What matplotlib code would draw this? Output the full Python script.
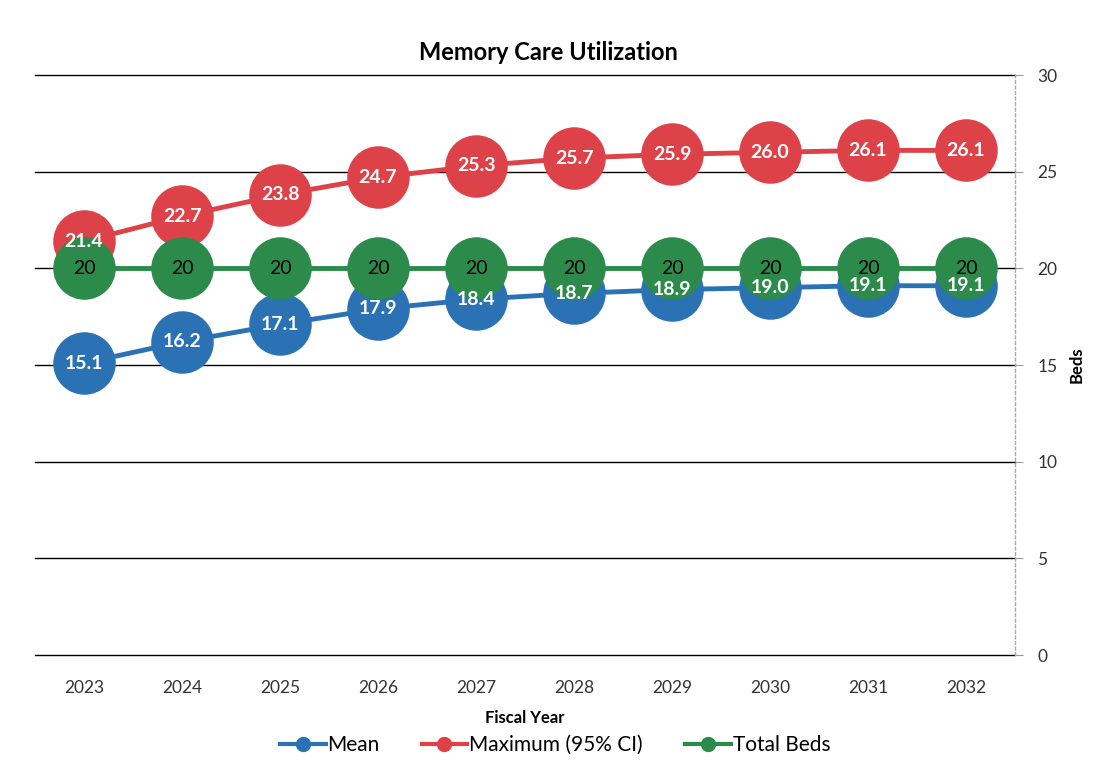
import matplotlib
matplotlib.use("Agg")
import matplotlib.pyplot as plt
from matplotlib.lines import Line2D

years = ["2023", "2024", "2025", "2026", "2027", "2028", "2029", "2030", "2031", "2032"]
mean_vals = [15.1, 16.2, 17.1, 17.9, 18.4, 18.7, 18.9, 19.0, 19.1, 19.1]
max_vals = [21.4, 22.7, 23.8, 24.7, 25.3, 25.7, 25.9, 26.0, 26.1, 26.1]
total_beds = [20, 20, 20, 20, 20, 20, 20, 20, 20, 20]
yticks = [0, 5, 10, 15, 20, 25, 30]

plt.rcParams['font.family'] = ['Lato', 'DejaVu Sans']

c_blue = "#2B72B5"
c_red = "#DE4249"
c_green = "#2C8A4B"

fig = plt.figure(figsize=(10.98, 7.73), dpi=100)
ax = fig.add_axes([35/1098, 1-655/773, 980/1098, 580/773])

x = list(range(len(years)))
ms = 44
ax.plot(x, mean_vals, color=c_blue, lw=3.5, marker='o', ms=ms, zorder=3)
ax.plot(x, max_vals, color=c_red, lw=3.5, marker='o', ms=ms, zorder=4)
ax.plot(x, total_beds, color=c_green, lw=3.5, marker='o', ms=ms, zorder=5)

for xi, v in zip(x, mean_vals):
    ax.text(xi, v, f"{v:.1f}", color='white', ha='center', va='center',
            fontsize=14, fontweight='bold', zorder=10)
for xi, v in zip(x, max_vals):
    ax.text(xi, v, f"{v:.1f}", color='white', ha='center', va='center',
            fontsize=14, fontweight='bold', zorder=10)
for xi, v in zip(x, total_beds):
    ax.text(xi, v, f"{v}", color='black', ha='center', va='center',
            fontsize=14, zorder=10)

ax.set_xlim(-0.5, len(years) - 0.5)
ax.set_ylim(0, 30)
ax.set_xticks(x)
ax.set_xticklabels(years, fontsize=12.5, color='#333333')
ax.tick_params(axis='x', length=0, pad=18)
ax.yaxis.tick_right()
ax.yaxis.set_label_position('right')
ax.set_yticks(yticks)
ax.set_yticklabels([str(t) for t in yticks], fontsize=12.5, color='#333333')
ax.tick_params(axis='y', length=6, color='#999999', pad=10)
ax.set_ylabel("Beds", fontsize=12, fontweight='bold', labelpad=8)
ax.set_xlabel("Fiscal Year", fontsize=12, fontweight='bold', labelpad=10)

for s in ['top', 'left', 'bottom']:
    ax.spines[s].set_visible(False)
ax.spines['right'].set_color('#aaaaaa')
ax.spines['right'].set_linestyle((0, (2, 2)))
ax.spines['right'].set_linewidth(1)

ax.grid(axis='y', color='black', lw=1)
for gl in ax.get_ygridlines():
    gl.set_clip_on(False)
ax.set_axisbelow(True)

fig.text(548/1098, 1-53/773, "Memory Care Utilization", ha='center', va='center',
         fontsize=17, fontweight='bold')

handles = [
    Line2D([], [], color=c_blue, lw=3, marker='o', ms=10),
    Line2D([], [], color=c_red, lw=3, marker='o', ms=10),
    Line2D([], [], color=c_green, lw=3, marker='o', ms=10),
]
fig.legend(handles, ["Mean", "Maximum (95% CI)", "Total Beds"], loc='center',
           bbox_to_anchor=(555/1098, 1-745/773), ncol=3, frameon=False,
           fontsize=15, handlelength=2.2, handletextpad=0.1, columnspacing=2.0)

fig.savefig("out.png", dpi=100)
